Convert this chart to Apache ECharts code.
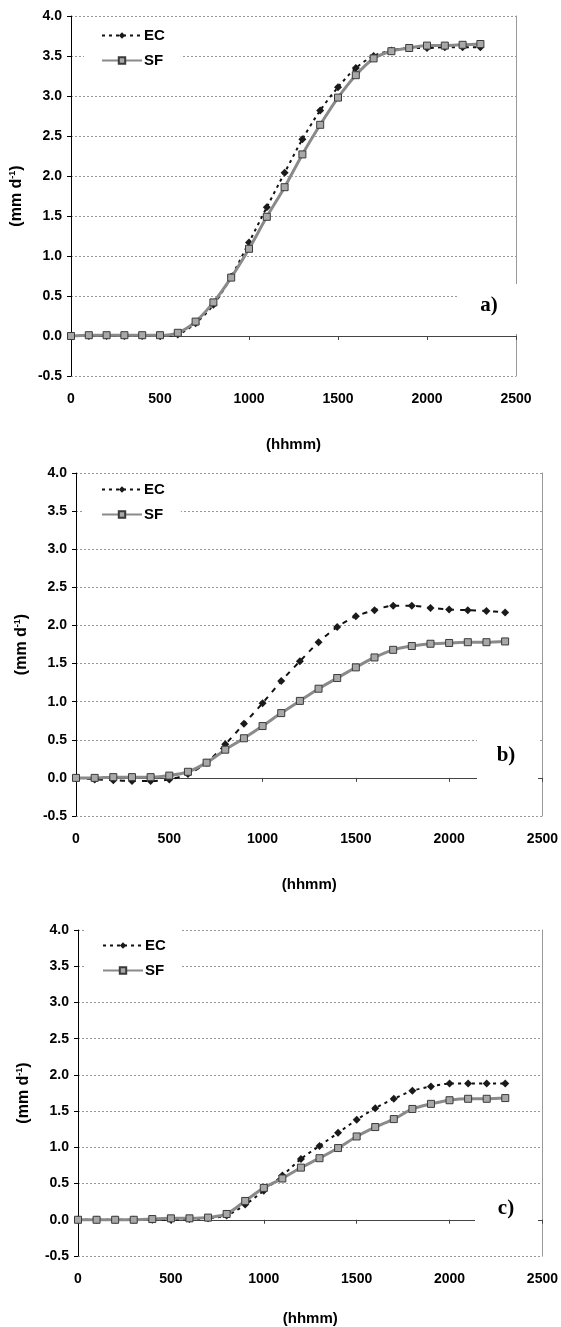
<!DOCTYPE html>
<html>
<head>
<meta charset="utf-8">
<script src="https://cdn.jsdelivr.net/npm/echarts@6/dist/echarts.min.js"></script>
<style>
  html, body { margin: 0; padding: 0; background: #fff; }
  #chart { width: 561px; height: 1327px; }
</style>
</head>
<body>
<div id="chart"></div>
<script>
// time of day (hhmm)
const hours = [0, 100, 200, 300, 400, 500, 600, 700, 800, 900, 1000, 1100,
  1200, 1300, 1400, 1500, 1600, 1700, 1800, 1900, 2000, 2100, 2200, 2300];

// cumulative ET (mm d-1), panel a
const ecA = [0, 0, 0, 0, 0, 0, 0.02, 0.16, 0.39, 0.74, 1.17, 1.61,
  2.04, 2.46, 2.82, 3.11, 3.35, 3.50, 3.57, 3.60, 3.60, 3.61, 3.61, 3.61];
const sfA = [0, 0.01, 0.01, 0.01, 0.01, 0.01, 0.04, 0.18, 0.42, 0.73, 1.09, 1.49,
  1.86, 2.27, 2.64, 2.98, 3.26, 3.47, 3.56, 3.60, 3.63, 3.63, 3.64, 3.65];

// panel b
const ecB = [0, -0.02, -0.03, -0.04, -0.04, -0.02, 0.05, 0.20, 0.44, 0.71, 0.98, 1.27,
  1.53, 1.78, 1.98, 2.12, 2.20, 2.26, 2.26, 2.23, 2.21, 2.20, 2.19, 2.17];
const sfB = [0, 0, 0.01, 0.01, 0.01, 0.03, 0.08, 0.20, 0.37, 0.52, 0.68, 0.85,
  1.01, 1.17, 1.31, 1.45, 1.58, 1.68, 1.73, 1.76, 1.77, 1.78, 1.78, 1.79];

// panel c
const ecC = [0, 0, 0, 0, 0, 0, 0.01, 0.02, 0.06, 0.21, 0.40, 0.61,
  0.84, 1.02, 1.20, 1.38, 1.54, 1.67, 1.78, 1.84, 1.88, 1.88, 1.88, 1.88];
const sfC = [0, 0, 0, 0, 0.01, 0.02, 0.02, 0.03, 0.08, 0.26, 0.44, 0.57,
  0.72, 0.85, 0.99, 1.15, 1.28, 1.39, 1.53, 1.60, 1.65, 1.67, 1.67, 1.68];

const panelLabels = ["a)", "b)", "c)"];
const seriesNames = ["EC", "SF"];

const font = "Liberation Sans";

// grid geometry per panel
const panels = [
  { grid: { left: 71, right: 45, top: 16, height: 360 }, legend: { left: 84, top: 20 },
    ec: ecA, sf: sfA, nameGap: 61, box: [458, 284, 64, 50], text: [489, 306] },
  { grid: { left: 76, right: 16, top: 473, height: 343 }, legend: { left: 84, top: 474 },
    ec: ecB, sf: sfB, nameGap: 61, box: [477, 726, 61, 54], text: [506, 756] },
  { grid: { left: 78, right: 18, top: 930, height: 353 }, legend: { left: 85, top: 930 },
    ec: ecC, sf: sfC, nameGap: 55, box: [475, 1192, 63, 32], text: [506, 1209] }
];

const chart = echarts.init(document.getElementById("chart"));

const option = {
  backgroundColor: "#fff",
  animation: false,
  grid: [],
  xAxis: [],
  yAxis: [],
  legend: [],
  series: [],
  graphic: []
};

panels.forEach((p, i) => {
  option.grid.push(Object.assign({ containLabel: false }, p.grid));

  option.xAxis.push({
    gridIndex: i,
    type: "value",
    min: 0,
    max: 2500,
    interval: 500,
    name: "(hhmm)",
    nameLocation: "middle",
    nameGap: p.nameGap,
    nameTextStyle: { fontFamily: font, fontWeight: "bold", fontSize: 15, color: "#000" },
    axisLine: { onZero: true, lineStyle: { color: "#444", width: 1 } },
    axisTick: { show: true, length: 4, lineStyle: { color: "#444" } },
    axisLabel: {
      margin: 16, fontFamily: font, fontWeight: "bold", fontSize: 14, color: "#000",
      formatter: (v) => String(v)
    },
    splitLine: { show: false }
  });

  option.yAxis.push({
    gridIndex: i,
    type: "value",
    min: -0.5,
    max: 4,
    interval: 0.5,
    name: "(mm d{sup|-1})",
    nameLocation: "middle",
    nameRotate: 90,
    nameGap: 46,
    nameTextStyle: {
      fontFamily: font, fontWeight: "bold", fontSize: 16, color: "#000",
      rich: { sup: { fontFamily: font, fontWeight: "bold", fontSize: 9, color: "#000", verticalAlign: "bottom", padding: [0, 0, 8, 0] } }
    },
    axisLine: { onZero: true, lineStyle: { color: "#000", width: 1 } },
    axisTick: { show: true, length: 4, lineStyle: { color: "#000" } },
    axisLabel: {
      margin: 9, fontFamily: font, fontWeight: "bold", fontSize: 14, color: "#000",
      formatter: (v) => v.toFixed(1)
    },
    splitLine: { show: true, lineStyle: { color: "#999", type: [2, 2], width: 1 } }
  });

  // right-hand frame line
  option.yAxis.push({
    gridIndex: i,
    type: "value",
    position: "right",
    min: -0.5,
    max: 4,
    interval: 0.5,
    axisLine: { show: true, onZero: false, lineStyle: { color: "#999", width: 1 } },
    axisTick: { show: false },
    axisLabel: { show: false },
    splitLine: { show: false }
  });

  option.legend.push(Object.assign({
    orient: "vertical",
    data: seriesNames,
    backgroundColor: "#fff",
    padding: [8, 16, 8, 17],
    itemWidth: 40,
    itemHeight: 8,
    itemGap: 10,
    textStyle: { fontFamily: font, fontWeight: "bold", fontSize: 15, color: "#000", padding: [0, 0, 0, -3] },
    z: 5
  }, p.legend));

  const yIdx = i * 2;
  option.series.push({
    name: "EC",
    type: "line",
    xAxisIndex: i,
    yAxisIndex: yIdx,
    data: hours.map((h, k) => [h, p.ec[k]]),
    smooth: 0.3,
    symbol: "diamond",
    symbolSize: 8,
    itemStyle: { color: "#1a1a1a" },
    lineStyle: { color: "#111", width: 2, type: i === 1 ? [5, 6] : [3, 4] },
    z: 3
  });
  option.series.push({
    name: "SF",
    type: "line",
    xAxisIndex: i,
    yAxisIndex: yIdx,
    data: hours.map((h, k) => [h, p.sf[k]]),
    smooth: 0.3,
    symbol: "rect",
    symbolSize: 7,
    itemStyle: { color: "#a8a8a8", borderColor: "#3a3a3a", borderWidth: 1 },
    lineStyle: { color: "#8a8a8a", width: 3 },
    z: 4
  });

  // panel tag with white backing
  option.graphic.push({
    type: "rect",
    z: 100,
    shape: { x: p.box[0], y: p.box[1], width: p.box[2], height: p.box[3] },
    style: { fill: "#fff" }
  });
  option.graphic.push({
    type: "text",
    z: 101,
    x: p.text[0],
    y: p.text[1],
    style: {
      text: panelLabels[i],
      fill: "#000",
      font: "bold 21px 'Liberation Serif'",
      align: "center",
      verticalAlign: "middle"
    }
  });
});

chart.setOption(option);
</script>
</body>
</html>
